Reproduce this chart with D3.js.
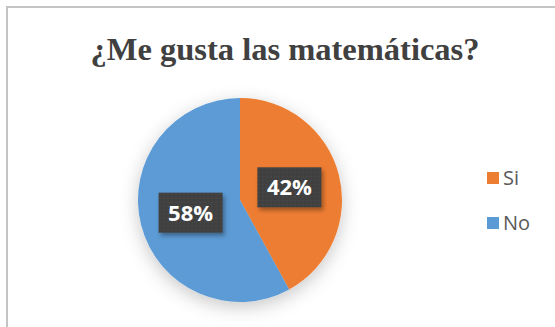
<!DOCTYPE html>
<html>
<head>
  <meta charset="utf-8">
  <style type="text/css">
  body {
    margin: 0;
    background: #fff;
  }
  .title {
    font-family: "Liberation Serif", serif;
    font-weight: bold;
    font-size: 32.5px;
    fill: #404040;
  }
  .legend text {
    font-family: "Open Sans", sans-serif;
    font-size: 20px;
    fill: #595959;
  }
  .pct {
    font-family: "Open Sans", sans-serif;
    font-weight: bold;
    font-size: 22px;
    fill: #fff;
  }
  </style>
</head>
<body>
  <script src="https://d3js.org/d3.v7.min.js"></script>
  <script>
    var categories = ["Si", "No"];
    var values = [42, 58];
    var colors = ["#ED7D31", "#5B9BD5"];

    var width = 555, height = 327;
    var cx = 240, cy = 200, r = 102;

    var svg = d3.select("body").append("svg")
        .attr("width", width)
        .attr("height", height);

    var defs = svg.append("defs");
    var shadow = defs.append("filter").attr("id", "pieShadow")
        .attr("x", "-40%").attr("y", "-40%").attr("width", "180%").attr("height", "180%");
    shadow.append("feDropShadow")
        .attr("dx", 0).attr("dy", 5).attr("stdDeviation", 9)
        .attr("flood-color", "#000").attr("flood-opacity", 0.22);
    var boxShadow = defs.append("filter").attr("id", "boxShadow")
        .attr("x", "-30%").attr("y", "-30%").attr("width", "160%").attr("height", "160%");
    boxShadow.append("feDropShadow")
        .attr("dx", 2).attr("dy", 3).attr("stdDeviation", 2)
        .attr("flood-color", "#000").attr("flood-opacity", 0.35);
    var dots = defs.append("pattern").attr("id", "dots")
        .attr("width", 4).attr("height", 4).attr("patternUnits", "userSpaceOnUse");
    dots.append("rect").attr("width", 4).attr("height", 4).attr("fill", "#3f3f3f");
    dots.append("rect").attr("x", 1).attr("y", 1).attr("width", 1).attr("height", 1).attr("fill", "#555");

    // chart frame
    svg.append("rect")
        .attr("x", 7).attr("y", 7)
        .attr("width", width + 20).attr("height", height + 20)
        .attr("fill", "#fff")
        .attr("stroke", "#c4c4c4")
        .attr("stroke-width", 2);

    svg.append("text")
        .attr("class", "title")
        .attr("x", 285).attr("y", 60)
        .attr("text-anchor", "middle")
        .text("¿Me gusta las matemáticas?");

    var pie = d3.pie().sort(null).value(function(d) { return d; });
    var arc = d3.arc().innerRadius(0).outerRadius(r);
    var arcs = pie(values);

    var g = svg.append("g")
        .attr("transform", "translate(" + cx + "," + cy + ")");
    g.append("g").attr("filter", "url(#pieShadow)")
      .selectAll("path")
        .data(arcs)
      .enter().append("path")
        .attr("d", arc)
        .attr("fill", function(d, i) { return colors[i]; });

    var labelArc = d3.arc().innerRadius(r * 0.5).outerRadius(r * 0.5);
    var lab = g.selectAll(".lab")
        .data(arcs)
      .enter().append("g")
        .attr("class", "lab")
        .attr("transform", function(d) {
          var c = labelArc.centroid(d);
          return "translate(" + c[0] + "," + c[1] + ")";
        });
    lab.append("rect")
        .attr("x", -32).attr("y", -20)
        .attr("width", 64).attr("height", 40)
        .attr("fill", "url(#dots)")
        .attr("filter", "url(#boxShadow)");
    lab.append("text")
        .attr("class", "pct")
        .attr("text-anchor", "middle")
        .attr("dy", "0.36em")
        .text(function(d) { return d.value + "%"; });

    var legend = svg.append("g").attr("class", "legend")
      .selectAll("g")
        .data(categories)
      .enter().append("g")
        .attr("transform", function(d, i) { return "translate(487," + (172 + i * 45) + ")"; });
    legend.append("rect")
        .attr("width", 12).attr("height", 12)
        .attr("fill", function(d, i) { return colors[i]; });
    legend.append("text")
        .attr("x", 16).attr("y", 6)
        .attr("dy", "0.36em")
        .text(function(d) { return d; });
  </script>
</body>
</html>
